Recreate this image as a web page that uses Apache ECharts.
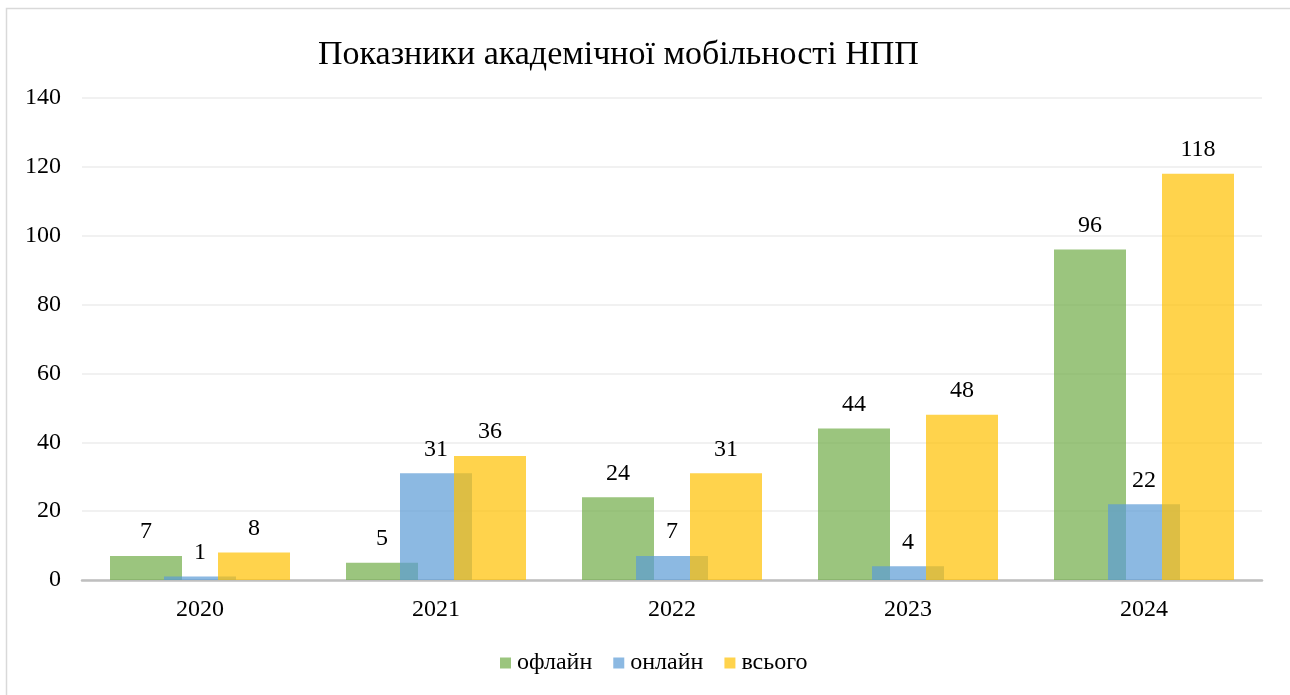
<!DOCTYPE html>
<html>
<head>
<meta charset="utf-8">
<script src="https://cdn.jsdelivr.net/npm/echarts@6/dist/echarts.min.js"></script>
<style>
	html, body { margin: 0; padding: 0; background: #fff; overflow: hidden; }
	#chart { width: 1290px; height: 695px; }
</style>
</head>
<body>
<div id="chart"></div>
<script>
	'use strict'
	var years = ['2020', '2021', '2022', '2023', '2024'];
	var offline = [7, 5, 24, 44, 96];
	var online = [1, 31, 7, 4, 22];
	var total = [8, 36, 31, 48, 118];
	var yTicks = [0, 20, 40, 60, 80, 100, 120, 140];

	var serif = '"Liberation Serif", "Times New Roman", serif';

	function bar(name, data, color) {
		return {
			name: name,
			type: 'bar',
			data: data,
			barWidth: 72,
			barGap: '-25%',
			barCategoryGap: 56,
			itemStyle: { color: color },
			label: {
				show: true,
				position: 'top',
				distance: 12,
				fontFamily: serif,
				fontSize: 24,
				color: '#000'
			}
		};
	}

	var chart = echarts.init(document.getElementById('chart'));
	chart.setOption({
		animation: false,
		title: {
			text: 'Показники академічної мобільності НПП',
			left: 313,
			top: 33,
			textStyle: {
				fontFamily: serif,
				fontSize: 34,
				fontWeight: 'normal',
				color: '#000'
			}
		},
		graphic: [{
			type: 'rect',
			shape: { x: 6.5, y: 8.5, width: 1400, height: 800 },
			style: { fill: 'none', stroke: '#d9d9d9', lineWidth: 1.5 },
			silent: true
		}],
		legend: {
			bottom: 15,
			left: 495,
			itemWidth: 11,
			itemHeight: 11,
			itemGap: 21,
			icon: 'rect',
			textStyle: { fontFamily: serif, fontSize: 24, color: '#000', padding: [0, 0, 0, 1] },
			data: ['офлайн', 'онлайн', 'всього']
		},
		grid: {
			left: 82,
			right: 28,
			top: 98,
			bottom: 115,
			containLabel: false
		},
		xAxis: {
			type: 'category',
			data: years,
			axisLine: { lineStyle: { color: '#bfbfbf', width: 2.5 } },
			axisTick: { show: false },
			axisLabel: { fontFamily: serif, fontSize: 24, color: '#000', margin: 18 }
		},
		yAxis: {
			type: 'value',
			min: yTicks[0],
			max: yTicks[yTicks.length - 1],
			interval: 20,
			axisLine: { show: false },
			axisTick: { show: false },
			splitLine: { lineStyle: { color: '#ececec', width: 1.5 } },
			axisLabel: { fontFamily: serif, fontSize: 24, color: '#000', margin: 21 }
		},
		series: [
			bar('офлайн', offline, 'rgba(112,173,71,0.7)'),
			bar('онлайн', online, 'rgba(91,155,213,0.7)'),
			bar('всього', total, 'rgba(255,192,0,0.7)')
		]
	});
</script>
</body>
</html>
